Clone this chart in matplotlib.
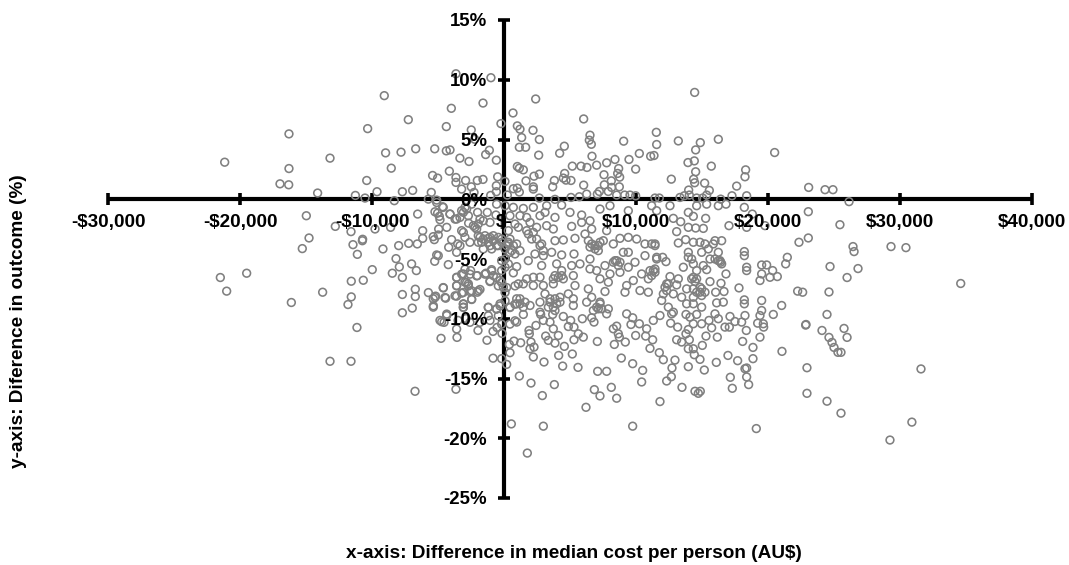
import matplotlib
matplotlib.use("Agg")
import matplotlib.pyplot as plt
import numpy as np

upper_left = [(-3640,10.5),(-990,10.17),(-9070,8.67),(-1590,8.05),(-3990,7.61),(-7250,6.66),(-230,6.33),(-4370,6.08),(-10330,5.91),(-16290,5.47),(-2480,5.8),(-2220,5.02),(-1110,4.1),(-1390,3.74),(-6690,4.22),(-5250,4.22),(-4370,4.05),(-4090,4.13),(-7800,3.94),(-8970,3.88),(-13180,3.44),(-3340,3.44),(-2650,3.16),(-580,3.27),(-21160,3.1),(-16290,2.57),(-8540,2.6),(-4140,2.35),(-5410,1.99),(-5030,1.77),(-3640,1.82),(-2910,1.57),(-2020,1.57),(-1590,1.66),(-480,1.88),(70,1.49),(-10400,1.57),(-16970,1.29),(-16310,1.21),(-3640,1.41),(-580,1.13),(-2480,1.04),(-3210,0.85),(-9620,0.63),(-7700,0.63),(-6920,0.74),(-5510,0.57),(-14120,0.52),(-11260,0.32),(-2270,0.57),(-580,0.63),(-1010,0.32),(-10530,0.1),(-8310,-0.12),(-5730,0.01),(-5100,-0.07)]

upper_right = [(2399,8.39),(14443,8.94),(682,7.22),(6035,6.72),(1010,6.14),(1212,5.86),(2197,5.77),(1338,5.16),(2677,5.0),(6515,5.36),(6464,4.94),(6616,4.6),(11539,5.6),(11565,4.58),(9065,4.86),(13206,4.88),(14872,4.74),(16236,5.02),(20503,3.91),(14519,4.13),(1162,4.35),(1641,4.35),(4570,4.44),(4217,3.85),(2626,3.69),(6666,3.6),(10252,3.83),(11110,3.6),(11363,3.66),(9469,3.33),(8408,3.33),(7777,3.05),(14418,3.21),(13938,3.07),(15706,2.77),(7020,2.85),(5176,2.77),(5833,2.77),(6287,2.66),(1010,2.74),(1162,2.6),(1465,2.46),(8686,2.57),(9974,2.52),(18306,2.46),(14519,2.3),(2677,2.1),(4596,2.16),(2273,1.93),(7575,2.05),(8610,2.16),(8762,1.85),(18256,1.88),(3813,1.57),(4494,1.77),(4696,1.6),(5075,1.57),(1667,1.54),(12676,1.68),(14367,1.68),(14443,1.38),(15200,1.35),(8130,1.54),(6035,1.18),(3687,1.04),(7600,1.21),(8737,1.04),(8156,0.99),(17625,1.1),(23080,0.99),(2222,1.04),(2222,0.85),(707,0.88),(1010,0.93),(1162,0.6),(15554,0.74),(13989,0.77),(7222,0.65),(7903,0.65),(6262,0.43),(7070,0.43),(5707,0.21),(5075,0.15),(8534,0.35),(9141,0.35),(9545,0.35),(9974,0.29),(13660,0.29),(14039,0.35),(15352,0.35),(17271,0.29),(18382,0.29),(252,0.35),(11438,0.1),(11766,0.1),(13332,0.15),(2677,0.1),(3863,-0.01),(14594,0.1),(15049,0.1),(16413,0.01)]

lower_left = [(-14975,-1.38),(-14770,-3.24),(-15280,-4.13),(-19495,-6.19),(-21490,-6.55),(-21010,-7.69),(-16110,-8.64),(-13740,-7.78),(-11820,-8.81),(-11570,-8.17),(-11570,-6.86),(-10660,-6.78),(-9980,-5.89),(-11110,-4.61),(-11440,-3.8),(-10710,-3.35),(-10730,-3.47),(-9170,-4.16),(-12780,-2.27),(-11590,-2.71),(-9770,-2.49),(-8590,-2.35),(-6540,-1.24),(-7980,-3.88),(-7220,-3.69),(-6570,-3.74),(-6160,-2.63),(-6160,-3.27),(-5360,-3.13),(-5280,-3.38),(-4950,-2.49),(-4980,-2.99),(-4340,-2.35),(-4090,-1.24),(-5230,-1.05),(-4900,-1.43),(-5030,-1.16),(-4650,-0.63),(-4850,-1.71),(-3590,-1.66),(-3335,-1.52),(-3080,-1.1),(-2830,-0.82),(-2680,-2.0),(-2200,-2.35),(-1570,-1.8),(-1950,-2.07),(-1265,-1.1),(-2000,-1.1),(-610,-1.32),(-560,-0.41),(-3970,-3.38),(-4190,-4.02),(-3510,-3.74),(-3080,-2.77),(-2960,-3.19),(-3335,-3.88),(-2580,-3.6),(-1950,-3.05),(-1570,-3.33),(-1190,-3.27),(-810,-3.05),(-430,-3.88),(-180,-3.33),(-1060,-3.88),(-4980,-4.72),(-5100,-4.66),(-5250,-5.19),(-4220,-5.47),(-3590,-4.44),(-8180,-4.97),(-7930,-5.66),(-8460,-6.19),(-7700,-6.55),(-7000,-5.41),(-6640,-5.97),(-6720,-7.53),(-6720,-8.14),(-7700,-7.97),(-7700,-9.5),(-6950,-9.11),(-5730,-7.81),(-5360,-8.33),(-5180,-8.11),(-5360,-9.03),(-4420,-8.28),(-4600,-7.42),(-3590,-7.22),(-3590,-8.11),(-3080,-8.75),(-3080,-9.03),(-2450,-8.39),(-3210,-7.86),(-2580,-7.72),(-3590,-6.53),(-3080,-6.25),(-2960,-6.94),(-2700,-7.08),(-2020,-6.39),(-2530,-5.97),(-1820,-7.55),(-2020,-7.78),(-1370,-6.19),(-810,-6.39),(-940,-5.89),(-1060,-6.89),(-180,-5.97),(-300,-6.8),(-50,-7.36),(-1190,-9.03),(-560,-9.17),(-300,-8.75),(-4340,-9.73),(-5100,-0.27),(-2450,-0.41),(-13180,-13.56),(-11590,-13.56),(-6740,-16.07),(-3640,-15.9),(-11140,-10.73),(-4770,-11.64),(-4540,-10.3),(-3560,-11.56),(-2580,-10.3),(-1970,-10.98),(-830,-11.06),(-530,-10.73),(-830,-13.3),(-150,-11.23),(-4850,-10.14),(-2880,-9.98),(-1820,-10.3),(-1290,-11.8),(-3480,-10.14),(-1060,-10.14)]

lower_mid = [(707,-0.68),(1465,-0.77),(2222,-0.68),(3232,-0.54),(4368,-0.49),(5000,-1.1),(5883,-1.32),(5883,-1.94),(6515,-1.8),(7272,-0.82),(8030,-0.54),(9418,-0.96),(11186,-0.54),(1212,-1.38),(1717,-1.52),(1970,-1.94),(1086,-2.35),(2727,-1.38),(3106,-1.1),(3863,-1.52),(2475,-2.35),(3232,-2.21),(3737,-2.49),(5126,-2.27),(6641,-2.49),(7777,-2.63),(454,-3.33),(960,-3.74),(1843,-2.91),(2096,-3.33),(2853,-3.74),(3863,-3.47),(4494,-3.41),(5378,-3.27),(6136,-2.91),(6389,-3.47),(6893,-3.88),(7146,-4.3),(7525,-3.47),(8282,-3.74),(8787,-3.27),(9418,-3.19),(10050,-3.33),(10681,-3.74),(9040,-4.44),(9418,-4.44),(10681,-4.72),(11565,-5.0),(202,-3.88),(581,-4.3),(1212,-4.3),(1843,-5.14),(2348,-4.58),(2980,-4.72),(3611,-4.44),(4368,-4.66),(5303,-4.58),(6515,-5.0),(5757,-5.41),(5126,-5.55),(3990,-5.41),(2853,-5.55),(960,-5.64),(707,-6.16),(76,-5.69),(4368,-5.97),(3863,-6.39),(4494,-6.66),(6515,-5.83),(7020,-5.97),(7651,-5.55),(8408,-5.14),(8787,-5.27),(9418,-5.69),(9923,-5.27),(8030,-6.25),(8787,-6.11),(10428,-6.25),(11059,-5.97),(11438,-5.83),(10933,-6.66),(1717,-6.66),(2222,-6.53),(2727,-6.53),(1086,-7.08),(1465,-7.08),(2222,-7.22),(2980,-7.22),(3737,-7.08),(5252,-6.39),(5378,-7.22),(6389,-7.5),(7272,-6.66),(7903,-6.94),(9292,-7.22),(9797,-6.8),(10302,-7.64),(10933,-7.78),(9166,-7.78),(7651,-7.72),(6641,-8.2),(7272,-8.61),(7903,-9.17),(6262,-8.61),(5252,-8.33),(5252,-8.89),(3863,-8.33),(3485,-8.61),(4242,-8.61),(3106,-7.92),(2727,-8.61),(1970,-8.89),(1212,-8.33),(960,-8.75),(1591,-8.61),(454,-9.03),(2727,-9.45),(3863,-9.31),(4873,-7.92),(7146,-9.17),(6767,-9.31)]

lower_right = [(18206,-0.68),(18812,-1.24),(17044,-2.21),(18383,-2.35),(19771,-2.21),(23054,-1.04),(23054,-3.24),(22347,-3.6),(21463,-4.86),(21337,-5.41),(19898,-5.5),(19519,-5.5),(18206,-4.38),(18206,-4.72),(18383,-5.69),(18383,-5.97),(20352,-5.97),(19519,-6.25),(19393,-6.8),(20150,-6.53),(20706,-6.47),(17802,-7.42),(22246,-7.69),(22625,-7.78),(18206,-8.42),(18206,-8.75),(19519,-8.47),(21034,-8.89),(19519,-9.31),(15605,-6.89),(16438,-7.03),(16817,-6.25),(16034,-7.78),(16666,-7.72),(16110,-8.67),(16615,-8.61),(16413,-5.27),(16236,-4.44),(16363,-5.14),(15984,-5.0),(15605,-5.0),(16489,-3.47),(15984,-3.47),(15857,-3.74),(15479,-4.16),(14974,-4.44),(14848,-3.6),(14343,-3.6),(15226,-3.74),(13762,-3.38),(13206,-3.66),(13080,-2.71),(13964,-2.35),(14519,-2.41),(15100,-2.44),(15277,-1.6),(14343,-1.43),(13964,-1.1),(13383,-1.88),(12828,-1.6),(12575,-0.54),(14595,-0.54),(15353,-0.41),(16236,-0.54),(16817,-0.41),(13964,-4.44),(13964,-4.86),(14216,-5.0),(13585,-5.69),(14343,-5.41),(15100,-5.55),(15353,-5.89),(14595,-5.97),(14343,-6.53),(14469,-6.89),(13838,-7.5),(14343,-7.5),(14848,-7.36),(15226,-7.78),(14974,-8.06),(14343,-8.2),(12575,-6.47),(13206,-6.66),(12323,-7.08),(13080,-7.17),(12323,-7.64),(12828,-7.92),(13459,-8.2),(12070,-7.92),(11944,-8.47),(12449,-9.03),(13838,-8.75),(14343,-8.75),(14974,-9.03),(12828,-9.45),(11312,-5.97),(11565,-4.86),(12020,-4.86),(12272,-5.22),(11439,-3.74),(11565,-0.96)]

lower_band = [(22851,-10.53),(21059,-12.73),(22952,-14.1),(22952,-16.24),(19114,-19.19),(9747,-18.99),(2980,-18.99),(556,-18.8),(1768,-21.24),(6212,-17.41),(11817,-16.93),(8535,-16.65),(7272,-16.46),(6843,-15.93),(8130,-15.74),(2904,-16.43),(3813,-15.51),(2045,-15.38),(1162,-14.79),(202,-13.82),(-177,-13.34),(2222,-13.2),(3030,-13.62),(4444,-13.96),(5606,-14.07),(7095,-14.4),(7777,-14.4),(8888,-13.29),(9747,-13.76),(10504,-14.32),(10428,-15.29),(12322,-15.21),(12676,-14.85),(12726,-14.12),(12953,-13.46),(12070,-13.43),(11766,-12.84),(11060,-12.48),(13483,-15.74),(14468,-16.07),(14721,-16.24),(14872,-16.07),(13963,-14.01),(15175,-14.29),(14847,-13.4),(16084,-13.65),(16968,-13.07),(17700,-13.51),(18256,-14.18),(18382,-14.12),(17145,-14.9),(18382,-14.87),(18533,-15.51),(17296,-15.82),(18862,-13.34),(18862,-12.4),(18079,-11.9),(19392,-11.54),(18357,-10.98),(19670,-10.7),(19645,-10.42),(19216,-10.37),(20402,-9.64),(18256,-9.73),(19392,-9.73),(18004,-10.28),(17498,-10.23),(17069,-10.7),(16741,-10.7),(17120,-9.81),(16160,-11.54),(15731,-10.76),(15302,-11.45),(15024,-12.23),(14342,-12.51),(14417,-13.01),(13963,-12.51),(13080,-11.76),(13458,-11.95),(14039,-11.76),(13786,-11.26),(13963,-10.9),(14342,-10.42),(14973,-10.42),(15529,-10.14),(16236,-10.0),(15983,-9.59),(14594,-9.64),(14090,-9.87),(13786,-9.64),(13155,-10.7),(12625,-10.37),(11312,-10.14),(11816,-9.73),(12700,-9.59),(11261,-11.76),(10807,-10.84),(10731,-11.45),(9973,-11.4),(10252,-10.42),(9620,-10.48),(9747,-9.92),(9292,-9.59),(9191,-11.95),(8737,-11.54),(8661,-11.26),(8358,-12.15),(8282,-10.84),(8534,-10.62),(7777,-9.59),(7070,-11.9),(6817,-10.28),(6641,-9.92),(5934,-10.0),(6009,-11.54),(5631,-11.26),(5302,-11.76),(5302,-10.7),(4873,-10.65),(5050,-10.14),(4494,-9.81),(4570,-12.31),(5176,-12.95),(4141,-13.07),(3863,-12.04),(3358,-11.81),(3156,-11.45),(4116,-11.4),(3737,-10.84),(3485,-10.28),(2980,-10.14),(3687,-9.64),(2778,-9.64),(2424,-10.56),(1894,-10.98),(1919,-11.26),(2045,-11.95),(2273,-12.37),(1970,-12.51),(1263,-12.01),(757,-11.87),(404,-12.15),(454,-12.84),(960,-10.28),(1465,-9.64)]

far_right = [(34600,-7.05),(31590,-14.2),(30900,-18.65),(29240,-20.15),(29320,-3.96),(30450,-4.05),(24320,0.8),(24920,0.8),(26140,-0.2),(25450,-2.13),(26440,-3.96),(26520,-4.38),(24700,-5.63),(26820,-5.8),(25990,-6.55),(24620,-7.76),(24470,-9.64),(22880,-10.48),(24090,-10.98),(24620,-11.56),(24850,-11.98),(25000,-12.4),(25300,-12.81),(25760,-10.81),(25990,-11.56),(25530,-12.81),(24470,-16.9),(25530,-17.9)]

center_left_extra = [(-1820,-3.19),(-1440,-3.05),(-1060,-3.19),(-1690,-3.6),(-1190,-3.6),(-810,-3.47),(-430,-3.19),(-180,-3.6),(-560,-3.88),(328,-3.74),(710,-3.88),(80,-4.16),(450,-4.44),(830,-4.58),(-935,-4.16),(-1570,-4.16),(-1950,-3.6),(80,-5.0),(328,-5.41),(-180,-5.14),(-3210,-2.63),(-2320,-2.21),(-1820,-1.66),(-2700,-1.38),(-3210,-0.96),(-2955,-0.68),(-4090,-1.24),(-3710,-1.66),(-2070,-2.49),(-1060,-1.94),(80,-0.54),(450,-1.38),(830,-2.07),(328,-2.63),(-4600,-0.68),(-3590,-6.55),(-3210,-6.27),(-2955,-5.86),(-2575,-6.27),(-2070,-6.41),(-1440,-6.27),(-1060,-6.83),(-935,-6.0),(-560,-6.55),(-430,-7.25),(-180,-6.97),(80,-7.8),(200,-7.39),(830,-7.25),(-3590,-7.25),(-2830,-6.97),(-2700,-7.25),(-3080,-7.8),(-3710,-8.08),(-2450,-7.66),(-1945,-7.66),(-2450,-8.36),(-3080,-8.78),(-3080,-9.06),(-4470,-8.22),(-4600,-7.39),(-5230,-8.22),(-5350,-8.92),(-4340,-9.61),(-1190,-9.06),(-560,-9.19),(-300,-8.92),(80,-8.5),(450,-9.06),(830,-8.78),(-1190,-9.75),(-430,-9.75),(-180,-10.45),(450,-10.45),(-3590,-10.86),(-4720,-10.25),(830,-10.17)]

cluster_extra = [(6641,-3.74),(7146,-3.88),(6893,-4.16),(6515,-4.0),(7272,-3.6),(3485,-8.33),(3990,-8.75),(3737,-9.03),(3358,-9.03),(4242,-8.2),(4116,-6.53),(4368,-6.39),(3737,-6.66),(1212,-8.75),(1465,-9.03),(960,-8.33),(1717,-2.63),(2222,-2.77),(2475,-3.33),(2727,-3.88),(2980,-4.3),(328,-3.6),(7272,-8.75),(7020,-9.03),(7398,-9.17),(8534,-5.14),(8282,-5.27),(8661,-5.55),(14216,-6.66),(14595,-6.66),(14848,-7.78),(14595,-7.78),(14974,-7.5),(11439,-6.11),(11186,-6.39),(12449,-7.08),(12196,-7.36),(16236,-5.14),(16489,-5.41),(11439,-3.88),(11186,-3.74)]

x_ticks = [-30000,-20000,-10000,0,10000,20000,30000,40000]
x_labels = ['-$30,000','-$20,000','-$10,000','$-','$10,000','$20,000','$30,000','$40,000']
y_ticks = [-25,-20,-15,-10,-5,0,5,10,15]
y_labels = ['-25%','-20%','-15%','-10%','-5%','0%','5%','10%','15%']
x_title = 'x-axis: Difference in median cost per person (AU$)'
y_title = 'y-axis: Diference in outcome (%)'

plt.rcParams['font.family'] = ['Liberation Sans', 'DejaVu Sans']
W, H = 1069, 565
fig = plt.figure(figsize=(W/100, H/100), dpi=100)
rect = [108/W, 1-498/H, (1032-108)/W, (498-20)/H]

ax = fig.add_axes(rect)
ax.patch.set_visible(False)
ax.set_xlim(-30000, 40000)
ax.set_ylim(-25, 15)
for s in ['top', 'right']:
    ax.spines[s].set_visible(False)
for s in ['left', 'bottom']:
    ax.spines[s].set_position(('data', 0))
    ax.spines[s].set_linewidth(3.0)
    ax.spines[s].set_color('black')
    ax.spines[s].set_capstyle('butt')
ax.set_xticks(x_ticks)
ax.set_yticks(y_ticks)
ax.tick_params(length=8.2, width=2.6, direction='inout', color='black',
               labelbottom=False, labelleft=False)
ax.set_axisbelow(True)

pts = np.array(upper_left + upper_right + lower_left + lower_mid + lower_right
               + lower_band + far_right + center_left_extra + cluster_extra)
ax.scatter(pts[:, 0], pts[:, 1], s=31, facecolors='none', edgecolors='#808080',
           linewidths=1.15, zorder=3, clip_on=False)

top = fig.add_axes(rect, sharex=ax, sharey=ax)
top.patch.set_visible(False)
for s in top.spines:
    top.spines[s].set_visible(False)
top.spines['left'].set_position(('data', 0))
top.spines['bottom'].set_position(('data', 0))
top.set_xticks(x_ticks, x_labels, fontweight='bold', fontsize=13.6)
top.set_yticks(y_ticks, y_labels, fontweight='bold', fontsize=13.4)
top.tick_params(axis='x', length=0, pad=10.5, labelcolor='black')
top.tick_params(axis='y', length=0, pad=12, labelcolor='black')

fig.text(574/W, 1-553/H, x_title, ha='center', va='center', fontweight='bold', fontsize=13.7)
fig.text(19/W, 1-321.5/H, y_title, ha='center', va='center', rotation=90, fontweight='bold', fontsize=13.7)
fig.savefig('out.png', dpi=100)
